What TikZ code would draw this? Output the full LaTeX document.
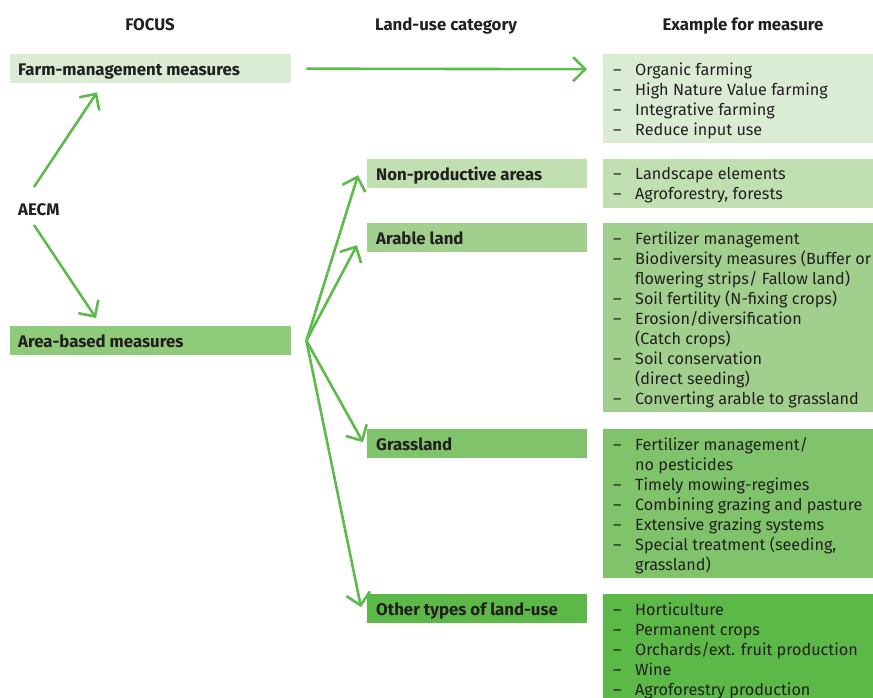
\documentclass[tikz,border=0pt]{standalone}
\usepackage{fontspec}
\setmainfont{Fira Sans}
\usetikzlibrary{arrows.meta}
\definecolor{txt}{HTML}{231F20}
\definecolor{arr}{HTML}{5DBB4C}
\definecolor{cA}{HTML}{DAEDD4}
\definecolor{cB}{HTML}{C1E0B2}
\definecolor{cC}{HTML}{A1D08E}
\definecolor{cD}{HTML}{7FC46A}
\definecolor{cE}{HTML}{5CB947}
\definecolor{cF}{HTML}{90CB7A}
\newcommand{\itm}[1]{\makebox[22pt][l]{–}#1\\}
\newcommand{\cnt}[1]{\hspace*{22pt}#1\\}
\tikzset{
  box/.style={fill=#1, inner sep=0pt, anchor=north west},
  lbl/.style={anchor=base west, inner sep=0pt, font=\fontsize{16.8}{18}\selectfont\bfseries, text=txt},
  head/.style={anchor=base, inner sep=0pt, font=\fontsize{16.8}{18}\selectfont\bfseries, text=txt},
  lst/.style={anchor=north west, inner sep=0pt, align=left, text=txt,
    font=\fontsize{16.2}{20}\selectfont},
  arrw/.style={draw=arr, line width=2.6pt, -{Straight Barb[length=12pt,width=24pt,line width=2.6pt]}}
}
\begin{document}
\begin{tikzpicture}[x=1pt,y=-1pt]
\useasboundingbox (0,0) rectangle (873,697);
% headers
\node[head] (h1) at (150,30) {FOCUS};
\node[head] (h2) at (446,30) {Land-use category};
\node[head] (h3) at (743,30) {Example for measure};
% left column
\node[box=cA, minimum width=281pt, minimum height=29pt] (fm) at (10,54) {};
\node[lbl] (fmt) at (18,75) {Farm-management measures};
\node[box=cF, minimum width=281pt, minimum height=29pt] (ab) at (10,326) {};
\node[lbl] (abt) at (18,347) {Area-based measures};
\node[lbl] (aecm) at (18,215) {AECM};
% middle column
\node[box=cB, minimum width=220pt, minimum height=29pt] (np) at (367,159) {};
\node[lbl] (npt) at (376,180) {Non-productive areas};
\node[box=cC, minimum width=220pt, minimum height=29pt] (ar) at (367,223) {};
\node[lbl] (art) at (376,244) {Arable land};
\node[box=cD, minimum width=220pt, minimum height=29pt] (gr) at (367,429) {};
\node[lbl] (grt) at (376,450) {Grassland};
\node[box=cE, minimum width=220pt, minimum height=29pt] (ot) at (367,594) {};
\node[lbl] (ott) at (376,615) {Other types of land-use};
% right column
\node[box=cA, minimum width=270pt, minimum height=89pt] (e1) at (603,54) {};
\node[lst] (e1t) at (613,62.5) {\itm{Organic farming}\itm{High Nature Value farming}\itm{Integrative farming}\itm{Reduce input use}};
\node[box=cB, minimum width=270pt, minimum height=49pt] (e2) at (603,159) {};
\node[lst] (e2t) at (613,167.5) {\itm{Landscape elements}\itm{Agroforestry, forests}};
\node[box=cC, minimum width=270pt, minimum height=189pt] (e3) at (603,223) {};
\node[lst] (e3t) at (613,231.5) {\itm{Fertilizer management}\itm{Biodiversity measures (Buffer or}\cnt{flowering strips/ Fallow land)}\itm{Soil fertility (N-fixing crops)}\itm{Erosion/diversification}\cnt{(Catch crops)}\itm{Soil conservation}\cnt{(direct seeding)}\itm{Converting arable to grassland}};
\node[box=cD, minimum width=270pt, minimum height=149pt] (e4) at (603,429) {};
\node[lst] (e4t) at (613,437.5) {\itm{Fertilizer management/}\cnt{no pesticides}\itm{Timely mowing-regimes}\itm{Combining grazing and pasture}\itm{Extensive grazing systems}\itm{Special treatment (seeding,}\cnt{grassland)}};
\node[box=cE, minimum width=270pt, minimum height=110pt] (e5) at (603,594) {};
\node[lst] (e5t) at (613,602.5) {\itm{Horticulture}\itm{Permanent crops}\itm{Orchards/ext. fruit production}\itm{Wine}\itm{Agroforestry production}};
% arrows
\draw[arrw] ([xshift=15pt]fm.east) -- ([xshift=-16pt,yshift=-0.5pt]e1.west |- fm.east);
\draw[arrw] ([shift={(16pt,28pt)}]aecm.base west) -- ([shift={(87pt,-9pt)}]fm.south west);
\draw[arrw] ([shift={(16pt,-10pt)}]aecm.base west) -- ([shift={(86pt,8pt)}]ab.north west);
\coordinate (fan) at ([xshift=15pt]ab.east);
\draw[arrw] (fan) -- ([shift={(-9pt,-1.5pt)}]np.west);
\draw[arrw] (fan) -- ([shift={(-10pt,-7.5pt)}]ar.west);
\draw[arrw] (fan) -- ([shift={(-4pt,1.5pt)}]gr.west);
\draw[arrw] (fan) -- ([shift={(-6pt,1.5pt)}]ot.west);
\end{tikzpicture}
\end{document}
